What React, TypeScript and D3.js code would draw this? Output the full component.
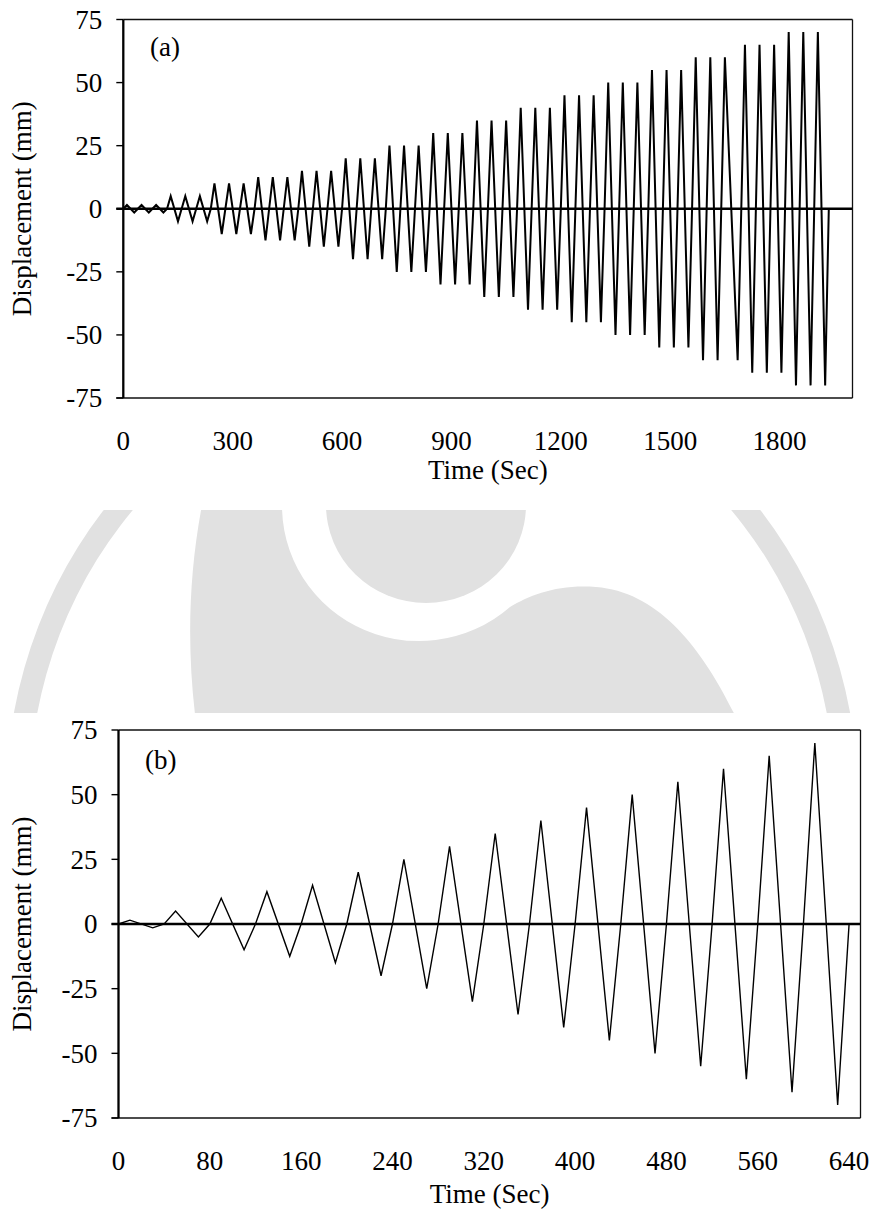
import React from "react";
import * as d3 from "d3";

const W = 874;
const H = 1219;

// cyclic loading protocol, amplitudes in mm
const levelsA = [1.5, 5, 10, 12.5, 15, 20, 25, 30, 35, 40, 45, 50, 55, 60, 65, 70];
const repeatsA = 3;
const periodA = 40; // s per cycle
const pauseA = { cycle: 41, seconds: 15 }; // 3rd cycle at 60 mm runs slower on the way down

const levelsB = [1.5, 5, 10, 12.5, 15, 20, 25, 30, 35, 40, 45, 50, 55, 60, 65, 70];
const repeatsB = 1;
const periodB = 40;

const yTicks = [-75, -50, -25, 0, 25, 50, 75];
const xTicksA = [0, 300, 600, 900, 1200, 1500, 1800];
const xTicksB = [0, 80, 160, 240, 320, 400, 480, 560, 640];

type Pt = [number, number];

function protocol(levels: number[], repeats: number, period: number, pause?: { cycle: number; seconds: number }): Pt[] {
  const pts: Pt[] = [[0, 0]];
  let t = 0;
  let k = 0;
  for (const a of levels) {
    for (let r = 0; r < repeats; r++, k++) {
      const extra = pause && pause.cycle === k ? pause.seconds : 0;
      pts.push([t + period / 4, a]);
      pts.push([t + (3 * period) / 4 + extra, -a]);
      t += period + extra;
      pts.push([t, 0]);
    }
  }
  return pts;
}

const FONT = "'Liberation Serif', 'Times New Roman', serif";

function Panel(props: {
  box: { left: number; right: number; top: number; bottom: number };
  xMax: number;
  xTicks: number[];
  data: Pt[];
  lineWidth: number;
  tag: string;
  tagPos: [number, number];
  titleY: number;
}) {
  const { box, xMax, xTicks, data, lineWidth, tag, tagPos, titleY } = props;
  const x = d3.scaleLinear().domain([0, xMax]).range([box.left, box.right]);
  const y = d3.scaleLinear().domain([-75, 75]).range([box.bottom, box.top]);
  const line = d3
    .line<Pt>()
    .x((d) => x(d[0]))
    .y((d) => y(d[1]));
  const tickLen = 7;
  const midY = (box.top + box.bottom) / 2;

  return (
    <g>
      <path d={line(data) || ""} fill="none" stroke="#000" strokeWidth={lineWidth} strokeLinejoin="miter" />
      {/* zero line */}
      <line x1={box.left - tickLen} x2={box.right} y1={y(0)} y2={y(0)} stroke="#000" strokeWidth={2.4} />
      {/* frame */}
      <line x1={box.left} x2={box.right} y1={box.top} y2={box.top} stroke="#111" strokeWidth={1.3} />
      <line x1={box.right} x2={box.right} y1={box.top} y2={box.bottom} stroke="#111" strokeWidth={1.3} />
      <line x1={box.left - tickLen} x2={box.right} y1={box.bottom} y2={box.bottom} stroke="#111" strokeWidth={1.4} />
      <line x1={box.left} x2={box.left} y1={box.top} y2={box.bottom} stroke="#000" strokeWidth={2.3} />
      {yTicks.map((v) => (
        <g key={v}>
          <line x1={box.left - tickLen} x2={box.left} y1={y(v)} y2={y(v)} stroke="#000" strokeWidth={1.4} />
          <text x={box.left - 21} y={y(v)} dy="0.35em" textAnchor="end" fontSize={27} fontFamily={FONT}>
            {v}
          </text>
        </g>
      ))}
      {xTicks.map((v) => (
        <text key={v} x={x(v)} y={box.bottom + 52} textAnchor="middle" fontSize={27} fontFamily={FONT}>
          {v}
        </text>
      ))}
      <text x={(box.left + box.right) / 2} y={titleY} textAnchor="middle" fontSize={27} fontFamily={FONT}>
        Time (Sec)
      </text>
      <text
        transform={`translate(31,${midY}) rotate(-90)`}
        textAnchor="middle"
        fontSize={27}
        fontFamily={FONT}
      >
        Displacement (mm)
      </text>
      <text x={tagPos[0]} y={tagPos[1]} fontSize={27} fontFamily={FONT}>
        {tag}
      </text>
    </g>
  );
}

function Watermark() {
  const grey = "#e1e1e1";
  return (
    <g>
      <defs>
        <clipPath id="wm-clip">
          <rect x={0} y={510} width={W} height={203} />
        </clipPath>
      </defs>
      <g clipPath="url(#wm-clip)">
        {/* outer ring */}
        <path
          d="M6,800 A426,455 0 0 1 858,800 L835,800 A403,433 0 0 0 29,800 Z"
          fill={grey}
        />
        {/* body */}
        <path
          d="M205,490 C188,570 186,650 197,730 L742,730 C705,650 660,592 596,587 C558,584 530,595 510,607 A137,135 0 0 1 283,490 Z"
          fill={grey}
        />
        {/* head */}
        <ellipse cx={426} cy={505} rx={100} ry={98} fill={grey} />
      </g>
    </g>
  );
}

export default function App() {
  const dataA = protocol(levelsA, repeatsA, periodA, pauseA);
  const dataB = protocol(levelsB, repeatsB, periodB);
  return (
    <svg
      width={W}
      height={H}
      viewBox={`0 0 ${W} ${H}`}
      style={{ position: "absolute", left: 0, top: 0, display: "block", background: "#fff" }}
    >
      <rect width={W} height={H} fill="#fff" />
      <Watermark />
      <Panel
        box={{ left: 123.3, right: 852.5, top: 19.5, bottom: 398 }}
        xMax={2000}
        xTicks={xTicksA}
        data={dataA}
        lineWidth={2}
        tag="(a)"
        tagPos={[150, 56]}
        titleY={479}
      />
      <Panel
        box={{ left: 118.5, right: 860.5, top: 730, bottom: 1118 }}
        xMax={650}
        xTicks={xTicksB}
        data={dataB}
        lineWidth={1.4}
        tag="(b)"
        tagPos={[145, 769]}
        titleY={1203}
      />
    </svg>
  );
}
